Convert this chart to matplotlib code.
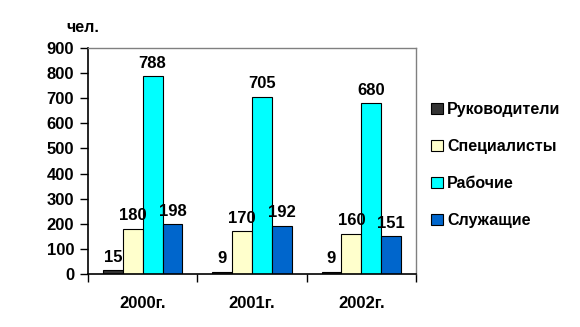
import matplotlib as mpl
import matplotlib.pyplot as plt
import numpy as np

mpl.rcParams['font.family'] = ['Liberation Sans', 'DejaVu Sans']
mpl.rcParams['font.weight'] = 'bold'

years = ['2000г.', '2001г.', '2002г.']
series = ['Руководители', 'Специалисты', 'Рабочие', 'Служащие']
managers = [15, 9, 9]
specialists = [180, 170, 160]
workers = [788, 705, 680]
clerks = [198, 192, 151]
colors = ['#333333', '#FFFFCC', '#00FFFF', '#0066CC']

fig = plt.figure(figsize=(5.8, 3.27), dpi=100)
ax = fig.add_axes([88/580, 1 - 274/327, 328/580, 226/327])

x = np.arange(len(years))
w = 0.182
data = [managers, specialists, workers, clerks]
for i, vals in enumerate(data):
    pos = x + (i - 1.5) * w
    ax.bar(pos, vals, w, color=colors[i], edgecolor='black', linewidth=0.8,
           label=series[i])
    for p, v in zip(pos, vals):
        ax.annotate(str(v), (p, v), xytext=(0, 4), textcoords='offset points',
                    ha='center', va='bottom', fontsize=12, fontweight='bold')

ax.set_xlim(-0.5, 2.5)
ax.set_ylim(0, 900)
ax.set_yticks(range(0, 901, 100))
ax.set_xticks([-0.5, 0.5, 1.5, 2.5])
ax.set_xticklabels([])
ax.set_xticks(x, minor=True)
ax.set_xticklabels(years, minor=True, fontsize=12, fontweight='bold')
ax.tick_params(axis='x', which='minor', length=0, pad=16)
ax.tick_params(axis='x', which='major', length=6, width=1, direction='out')
ax.tick_params(axis='y', length=6, width=1, labelsize=12, pad=4)

for s in ['left', 'bottom']:
    ax.spines[s].set_color('black')
    ax.spines[s].set_linewidth(1.2)
for s in ['top', 'right']:
    ax.spines[s].set_color('#808080')
    ax.spines[s].set_linewidth(1)

fig.text(66/580, 1 - 27/327, 'чел.', fontsize=11.5, fontweight='bold', va='center')

leg = ax.legend(loc='center left', bbox_to_anchor=(417/580, 162/327),
                bbox_transform=fig.transFigure, frameon=False, fontsize=11.5,
                labelspacing=1.38, handlelength=0.7, handleheight=0.7,
                handletextpad=0.3)

fig.savefig('out.png', dpi=100)
